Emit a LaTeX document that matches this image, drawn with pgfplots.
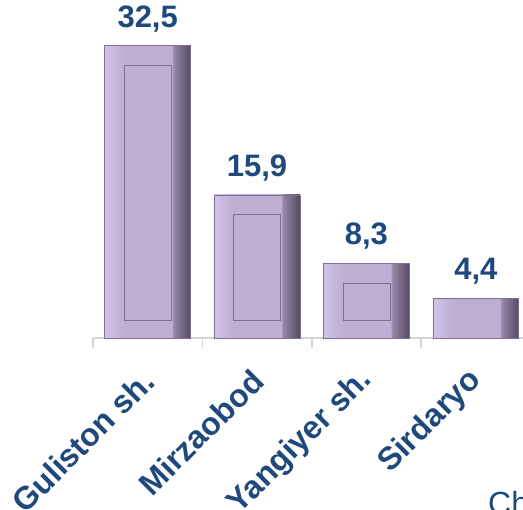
\documentclass[border=0pt]{standalone}
\usepackage{fontspec}
\setmainfont{Liberation Sans}
\usepackage{pgfplots}
\usepackage{pgfplotstable}
\pgfplotsset{compat=1.18}

\definecolor{labelblue}{RGB}{31,73,125}
\definecolor{barmid}{RGB}{189,174,211}
\definecolor{barlight}{RGB}{210,196,232}
\definecolor{barshade}{RGB}{150,136,168}
\definecolor{bardark}{RGB}{84,74,100}
\definecolor{baredge}{RGB}{125,112,145}
\definecolor{axisgray}{RGB}{212,212,212}

% light left rim, flat face, dark right rim
\pgfdeclarehorizontalshading{bevelshade}{100bp}{color(0bp)=(barlight);
  color(25bp)=(barlight); color(36bp)=(barmid); color(64bp)=(barmid);
  color(65bp)=(barshade); color(75bp)=(bardark); color(100bp)=(bardark)}

% inner panel of each bevelled bar: gap under the panel, then panel height
\pgfplotstableread{
x  gap   panel
0  1.95  28.35
1  1.95  11.75
2  1.95  4.15
}\panels

\begin{document}
\begin{tikzpicture}
\path[use as bounding box, clip] (0,0) rectangle (523pt,510pt);
\pgfplotsset{base/.style={
    scale only axis, width=437.5pt, height=333pt,
    xmin=-0.5, xmax=3.5, ymin=0, ymax=37,
    at={(93pt,172pt)}, anchor=south west, clip=false},
  bevel/.style={ybar, bar shift=0pt, bar width=0.785,
    shade, shading=bevelshade, draw=baredge, line width=0.6pt}}

\begin{axis}[base,
    axis y line=none, axis x line*=bottom,
    x axis line style={axisgray, line width=1.5pt},
    tick align=outside,
    xtick={0,1,2,3},
    xticklabels={Guliston sh., Mirzaobod, Yangiyer sh., Sirdaryo},
    major tick length=0pt,
    extra x ticks={-0.5,0.5,1.5,2.5,3.5},
    extra x tick labels={},
    extra x tick style={major tick length=10pt,
        tick style={axisgray, line width=1.5pt}},
    xticklabel style={rotate=45, anchor=east, text=labelblue,
        font=\bfseries\fontsize{32}{38}\selectfont,
        xshift=-22.75pt, yshift=-27.25pt},
    nodes near coords,
    every node near coord/.append style={text=labelblue,
        font=\bfseries\fontsize{31}{36}\selectfont, yshift=10pt},
    /pgf/number format/.cd, use comma, fixed, fixed zerofill,
        precision=1, assume math mode=true]
  \addplot[bevel] coordinates {(0,32.5)};
  \addplot[bevel] coordinates {(1,15.9)};
  \addplot[bevel] coordinates {(2,8.3)};
  \addplot[bevel] coordinates {(3,4.4)};
\end{axis}

\begin{axis}[base, ybar stacked, bar width=0.43, hide axis]
  \addplot[draw=none, fill=none] table[x=x, y=gap] {\panels};
  \addplot[fill=barmid, draw=baredge, line width=0.5pt]
      table[x=x, y=panel] {\panels};
\end{axis}

\node[anchor=base west, inner sep=0pt, text=labelblue,
    font=\fontsize{32}{38}\selectfont] at (488pt,-5pt) {Ch};
\end{tikzpicture}
\end{document}
